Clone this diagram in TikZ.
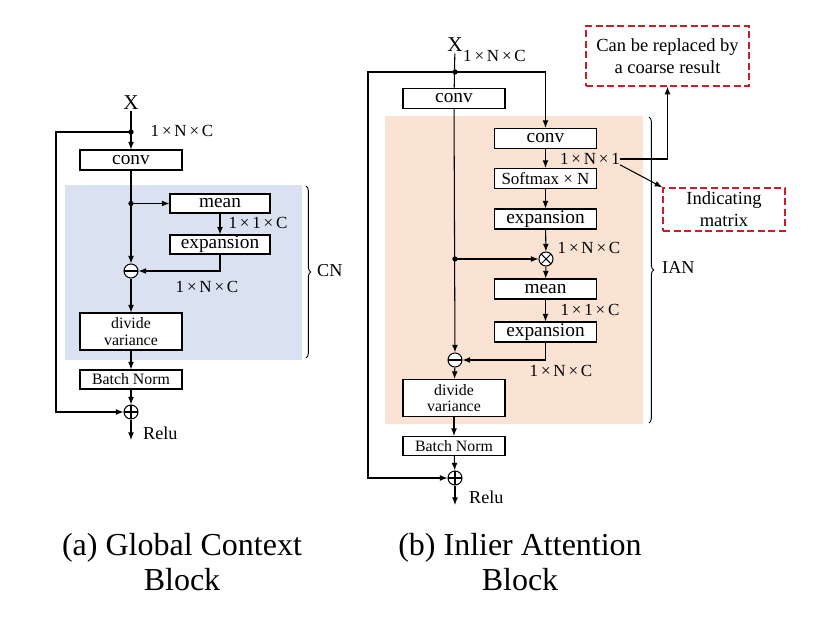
\documentclass[tikz,border=0pt]{standalone}
\usepackage{fontspec}
\setmainfont{Liberation Serif}
\usetikzlibrary{arrows.meta,decorations.pathreplacing,positioning}
\definecolor{cnblue}{RGB}{218,226,242}
\definecolor{ianorange}{RGB}{250,227,211}
\definecolor{hintred}{RGB}{200,30,40}
\newcommand{\dimtext}[3]{#1\,×\,#2\,×\,#3}
\tikzset{
  box/.style={draw, fill=white, line width=0.9pt, inner sep=0pt, minimum width=3.06cm, minimum height=0.6cm, font=\fontsize{16.5}{18}\selectfont},
  smallbox/.style={box, font=\fontsize{13.5}{14}\selectfont},
  tallbox/.style={box, minimum height=1.11cm, align=center, font=\fontsize{13.5}{14}\selectfont},
  dimlabel/.style={inner sep=0pt, font=\fontsize{14.5}{16}\selectfont},
  op/.style={draw, circle, fill=white, line width=0.9pt, minimum size=0.42cm, inner sep=0pt},
  minusop/.style={op, path picture={\draw[line width=0.9pt] (path picture bounding box.west) -- (path picture bounding box.east);}},
  plusop/.style={op, path picture={\draw[line width=0.9pt] (path picture bounding box.west) -- (path picture bounding box.east) (path picture bounding box.north) -- (path picture bounding box.south);}},
  timesop/.style={op, path picture={\draw[line width=0.9pt] (path picture bounding box.north west) -- (path picture bounding box.south east) (path picture bounding box.north east) -- (path picture bounding box.south west);}},
  joint/.style={circle, fill, inner sep=0pt, minimum size=4.5pt},
  flow/.style={line width=0.9pt, -{Latex[length=6.5pt,width=5pt]}},
  link/.style={line width=0.9pt},
  hint/.style={draw=hintred, dashed, dash pattern=on 6pt off 3pt, line width=1.1pt, fill=white, align=center, inner sep=0pt, font=\fontsize{15.8}{19}\selectfont},
  bracket/.style={line width=0.8pt, decorate, decoration={brace, amplitude=4pt}},
  caption/.style={align=center, font=\fontsize{27.3}{30}\selectfont}
}
\begin{document}
\begin{tikzpicture}[x=0.03cm, y=-0.03cm]
\useasboundingbox (0,0) rectangle (830,624);

% shaded parts
\fill[cnblue] (65,185) rectangle (302,360);
\fill[ianorange] (385,116) rectangle (643,424);

% (a) global context block
\node[font=\fontsize{18}{20}\selectfont, inner sep=1pt] (Xa) at (131,103) {X};
\coordinate (ja1) at (131,132);
\node[box] (conva) at (131,160) {conv};
\coordinate (ja2) at (131,203.5);
\node[box, minimum width=3cm, minimum height=0.57cm] (meana) at (220,203.5) {mean};
\node[box, minimum width=3cm, minimum height=0.57cm] (expa) at (220,244.5) {expansion};
\node[minusop] (minusa) at (131,271) {};
\node[tallbox] (diva) at (131,331.5) {divide\\variance};
\node[smallbox, minimum height=0.57cm] (bna) at (131,379.5) {Batch Norm};
\node[plusop] (plusa) at (131,412) {};
\coordinate (la) at (56,412);
\coordinate (ra) at (131,440);
\node[font=\fontsize{15.5}{17}\selectfont, anchor=west, inner sep=0pt] (relua) at (143,433) {Relu};

\node[dimlabel] (dima1) at (182,131) {\dimtext{1}{N}{C}};
\node[dimlabel] (dima2) at (258,223) {\dimtext{1}{1}{C}};
\node[dimlabel] (dima3) at (207,287) {\dimtext{1}{N}{C}};

\draw[flow] (Xa) -- (conva);
\node[joint] at (ja1) {};
\draw[flow] (ja1) -| (la) -- (plusa);
\draw[flow] (conva) -- (minusa);
\node[joint] at (ja2) {};
\draw[flow] (ja2) -- (meana);
\draw[flow] (meana) -- (expa);
\draw[flow] (expa) |- (minusa);
\draw[flow] (minusa) -- (diva);
\draw[flow] (diva) -- (bna);
\draw[flow] (bna) -- (plusa);
\draw[flow] (plusa) -- (ra);

\draw[bracket] (306,186) -- (306,358);
\node[font=\fontsize{15.5}{17}\selectfont, anchor=west, inner sep=0pt] (cn) at (317,271) {CN};

% (b) inlier attention block
\node[font=\fontsize{18}{20}\selectfont, inner sep=1pt] (Xb) at (455,45) {X};
\node[dimlabel, anchor=west] (dimb0) at (463,56) {\dimtext{1}{N}{C}};
\coordinate (jb1) at (455,72);
\node[box] (convb1) at (454,98.5) {conv};
\node[box] (convb2) at (545.5,138.5) {conv};
\node[box, font=\fontsize{14.5}{16}\selectfont] (softb) at (545.5,178.5) {Softmax × N};
\node[box] (expb1) at (545.5,219) {expansion};
\node[timesop] (timesb) at (546,259) {};
\coordinate (jb2) at (455,259);
\node[box] (meanb) at (545.5,289) {mean};
\node[box] (expb2) at (545.5,332) {expansion};
\node[minusop] (minusb) at (455,360) {};
\node[tallbox] (divb) at (454,398) {divide\\variance};
\node[smallbox, minimum height=0.57cm] (bnb) at (454,446) {Batch Norm};
\node[plusop] (plusb) at (455,478) {};
\coordinate (lb) at (368,478);
\coordinate (rb) at (455,505);
\node[font=\fontsize{15.5}{17}\selectfont, anchor=west, inner sep=0pt] (relub) at (469,497) {Relu};

\node[dimlabel] (dimb1) at (590,159) {\dimtext{1}{N}{1}};
\node[dimlabel] (dimb2) at (589,248) {\dimtext{1}{N}{C}};
\node[dimlabel] (dimb3) at (590,310) {\dimtext{1}{1}{C}};
\node[dimlabel] (dimb4) at (561,371) {\dimtext{1}{N}{C}};

\node[hint, minimum width=4.89cm, minimum height=1.8cm] (coarse) at (667.5,56) {Can be replaced by\\a coarse result};
\node[hint, minimum width=3.66cm, minimum height=1.29cm] (indic) at (724,209.5) {Indicating\\matrix};

\draw[link] (Xb) -- (convb1);
\node[joint] at (jb1) {};
\draw[flow] (jb1) -| (lb) -- (plusb);
\draw[flow] (jb1) -| (convb2);
\draw[flow] (convb1) -- (minusb);
\draw[flow] (convb2) -- (softb);
\draw[flow] (softb) -- (expb1);
\draw[flow] (expb1) -- (timesb);
\node[joint] at (jb2) {};
\draw[flow] (jb2) -- (timesb);
\draw[flow] (timesb) -- (meanb);
\draw[flow] (meanb) -- (expb2);
\draw[flow] (expb2) |- (minusb);
\draw[flow] (minusb) -- (divb);
\draw[flow] (divb) -- (bnb);
\draw[flow] (bnb) -- (plusb);
\draw[flow] (plusb) -- (rb);
\draw[flow] (dimb1.east) -| (coarse);
\draw[flow] (dimb1.south east) -- (indic.north west);

\draw[bracket] (649,117) -- (649,423);
\node[font=\fontsize{15.5}{17}\selectfont, anchor=west, inner sep=0pt] (ian) at (662,268) {IAN};

% captions
\node[caption] (capa) at (182,562) {(a) Global Context\\Block};
\node[caption] (capb) at (520,562) {(b) Inlier Attention\\Block};
\end{tikzpicture}
\end{document}
